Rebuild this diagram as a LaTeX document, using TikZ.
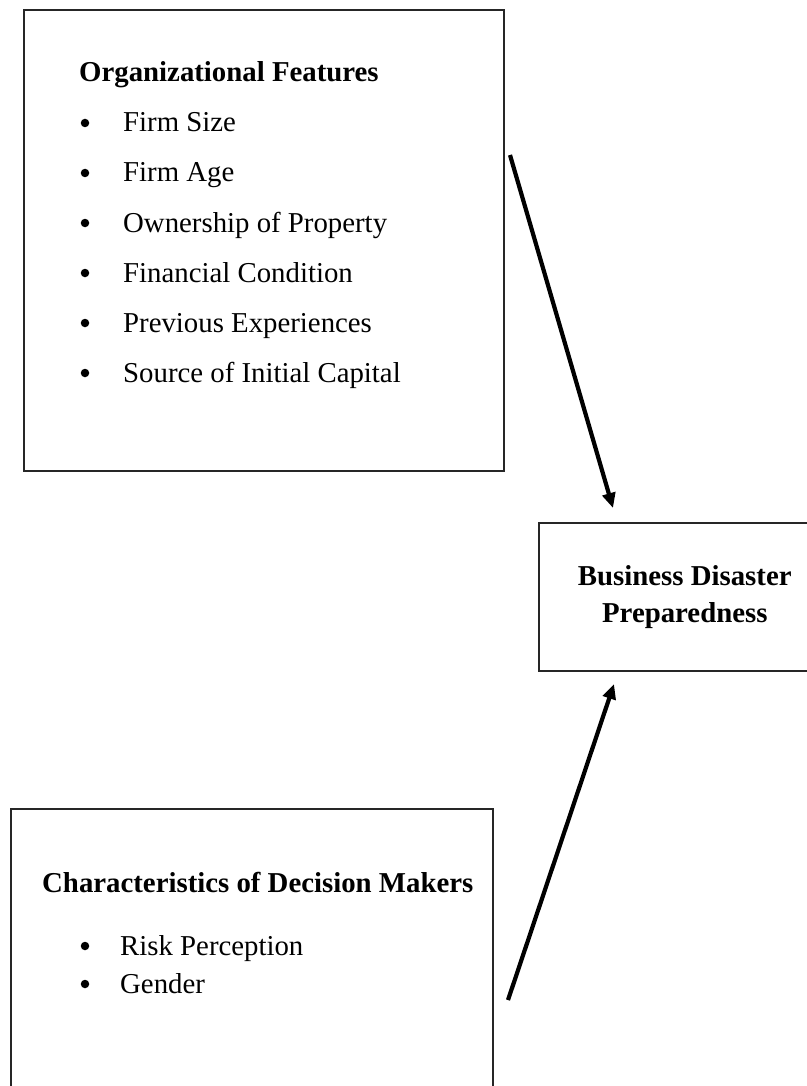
\documentclass[tikz,border=0pt]{standalone}
\usepackage{fontspec}
\setmainfont{Liberation Serif}
\usetikzlibrary{arrows.meta}

\newcommand{\bodysize}{\fontsize{28.8}{34}\selectfont}

\tikzset{
	panel/.style={draw=black!85, line width=1.6pt, anchor=north west, inner sep=0pt},
	heading/.style={anchor=base west, inner sep=0pt, font=\bodysize\bfseries},
	item/.style={anchor=base west, inner sep=0pt, font=\bodysize},
	dot/.style={circle, fill=black, inner sep=0pt, minimum size=8.5pt},
	link/.style={line width=4.2pt, -{Triangle[length=15pt,width=13pt]}}
}

\begin{document}
\begin{tikzpicture}[x=1pt,y=-1pt]

	\useasboundingbox (0,0) rectangle (806,1086);

	% the three boxes
	\node [panel, minimum width=480pt, minimum height=461pt] (org) at (23,9) {};
	\node [panel, minimum width=482pt, minimum height=320pt] (dec) at (10,808) {};
	\node [panel, minimum width=292pt, minimum height=148pt, align=center,
		font=\fontsize{28.8}{37}\selectfont\bfseries] (prep) at (538,522)
		{Business Disaster\\Preparedness};

	% first box: heading and list
	\node [heading] (orgtitle) at (79,82) {Organizational Features};
	\foreach \label [count=\i] in {Firm Size, Firm Age, Ownership of Property,
		Financial Condition, Previous Experiences, Source of Initial Capital} {
		\node [dot] (orgdot\i) at (85,123+50*\i-50) {};
		\node [item] (orgitem\i) at (123,132+50*\i-50) {\label};
	}

	% second box: heading and list
	\node [heading] (dectitle) at (42,892) {Characteristics of Decision Makers};
	\foreach \label [count=\i] in {Risk Perception, Gender} {
		\node [dot] (decdot\i) at (85,946+38*\i-38) {};
		\node [item] (decitem\i) at (120,955+38*\i-38) {\label};
	}

	% arrows into the outcome box
	\coordinate (orgout) at (510,155);
	\coordinate (prepin1) at (613,508);
	\coordinate (decout) at (508,1000);
	\coordinate (prepin2) at (614,684);

	\draw [link] (orgout) -- (prepin1);
	\draw [link] (decout) -- (prepin2);

\end{tikzpicture}
\end{document}
